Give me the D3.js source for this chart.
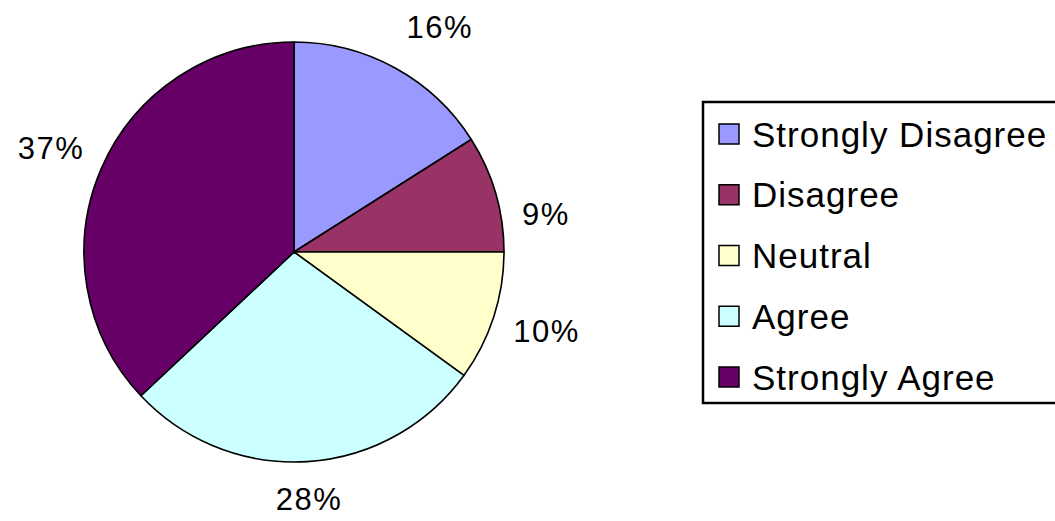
<!DOCTYPE html>
<html>
<head>
<meta charset="utf-8">
<script src="https://cdn.jsdelivr.net/npm/d3@7"></script>
<style>
  html, body { margin: 0; padding: 0; background: #fff; }
  svg { display: block; }
  text { font-family: Arial, "Liberation Sans", sans-serif; fill: #000; }
</style>
</head>
<body>
<svg id="chart" width="1055" height="521"></svg>
<script>
const categories = ["Strongly Disagree", "Disagree", "Neutral", "Agree", "Strongly Agree"];
const values = [16, 9, 10, 28, 37];
const labels = ["16%", "9%", "10%", "28%", "37%"];
const colors = ["#9999FF", "#993366", "#FFFFCC", "#CCFFFF", "#660066"];

const svg = d3.select("#chart");
const cx = 294, cy = 252, r = 210;

const pie = d3.pie().sort(null).value(d => d)
  .startAngle(0).endAngle(2 * Math.PI);
const arcs = pie(values);
const arc = d3.arc().innerRadius(0).outerRadius(r);

const g = svg.append("g").attr("transform", `translate(${cx},${cy})`);
g.selectAll("path.slice")
  .data(arcs)
  .enter().append("path")
  .attr("class", "slice")
  .attr("d", arc)
  .attr("fill", (d, i) => colors[i])
  .attr("stroke", "#000")
  .attr("stroke-width", 1.6)
  .attr("stroke-linejoin", "round");

// data labels outside slices
const labelArc = d3.arc().innerRadius(255).outerRadius(255);
const labelShift = [[23, -1], [7, 34], [10, 1], [-1, -7], [-9, -2]];
g.selectAll("text.lbl")
  .data(arcs)
  .enter().append("text")
  .attr("class", "lbl")
  .attr("x", (d, i) => labelArc.centroid(d)[0] + labelShift[i][0])
  .attr("y", (d, i) => labelArc.centroid(d)[1] + labelShift[i][1])
  .attr("text-anchor", "middle")
  .attr("dominant-baseline", "central")
  .attr("font-size", 31)
  .attr("letter-spacing", 1.5)
  .text((d, i) => labels[i]);

// legend
const lx = 703, ly = 102, lw = 360, lh = 301;
svg.append("rect")
  .attr("x", lx).attr("y", ly).attr("width", lw).attr("height", lh)
  .attr("fill", "#fff").attr("stroke", "#000").attr("stroke-width", 2.5);

const rowY = d3.scalePoint().domain(categories).range([134, 377]);
const leg = svg.selectAll("g.leg")
  .data(categories)
  .enter().append("g")
  .attr("class", "leg")
  .attr("transform", d => `translate(0,${rowY(d)})`);
leg.append("rect")
  .attr("x", 719).attr("y", -10).attr("width", 20).attr("height", 20)
  .attr("fill", (d, i) => colors[i])
  .attr("stroke", "#000").attr("stroke-width", 1.5);
leg.append("text")
  .attr("x", 752).attr("y", 0)
  .attr("dominant-baseline", "central")
  .attr("font-size", 35)
  .attr("letter-spacing", 1)
  .text(d => d);
</script>
</body>
</html>
